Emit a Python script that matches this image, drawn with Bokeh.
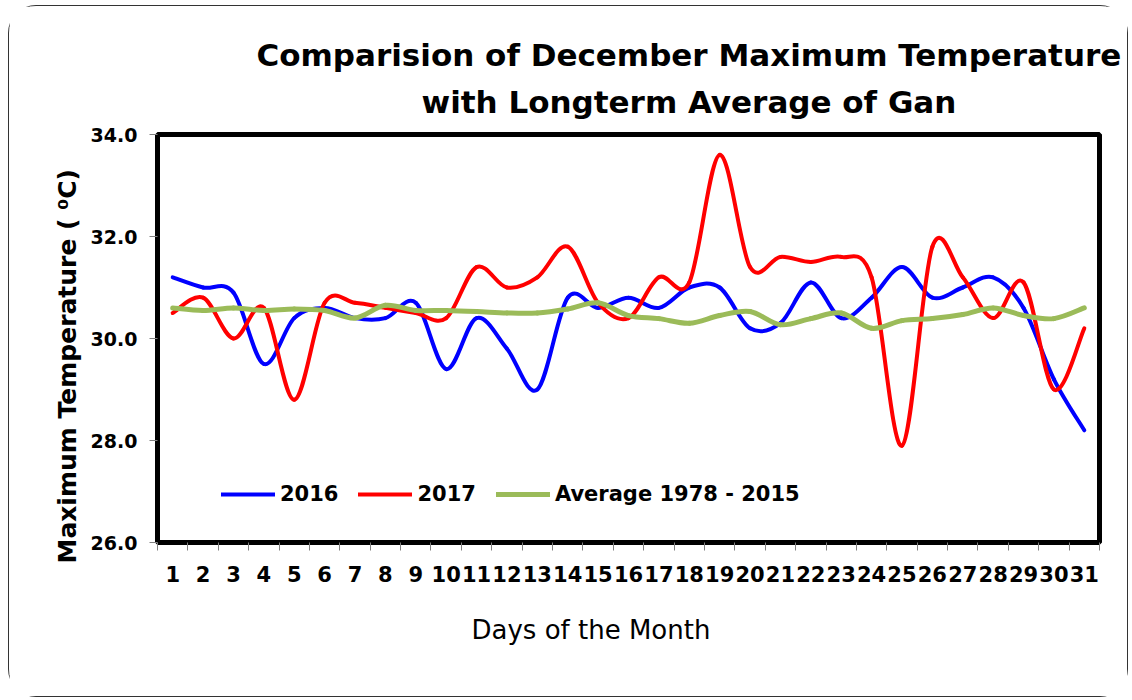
from bokeh.plotting import figure
from bokeh.models import Range1d, FixedTicker, NumeralTickFormatter, Title, Legend, LegendItem
from bokeh.embed import file_html
from bokeh.resources import INLINE

days = list(range(1, 32))
t2016 = [31.2, 31.0, 30.9, 29.5, 30.4, 30.6, 30.4, 30.4, 30.7, 29.4, 30.4, 29.8, 29.0, 30.8, 30.6,
         30.8, 30.6, 31.0, 31.0, 30.2, 30.3, 31.1, 30.4, 30.8, 31.4, 30.8, 31.0, 31.2, 30.6, 29.2, 28.2]
t2017 = [30.5, 30.8, 30.0, 30.6, 28.8, 30.7, 30.7, 30.6, 30.5, 30.4, 31.4, 31.0, 31.2, 31.8, 30.7,
         30.4, 31.2, 31.1, 33.6, 31.4, 31.6, 31.5, 31.6, 31.2, 27.9, 31.8, 31.2, 30.4, 31.1, 29.0, 30.2]
tavg = [30.6, 30.55, 30.6, 30.55, 30.58, 30.55, 30.4, 30.65, 30.55, 30.55, 30.53, 30.5, 30.5, 30.58, 30.7,
        30.45, 30.39, 30.3, 30.45, 30.53, 30.27, 30.39, 30.5, 30.2, 30.35, 30.39, 30.47, 30.6, 30.45, 30.39, 30.6]
y_ticks = [26, 28, 30, 32, 34]
series_labels = ["2016", "2017", "Average 1978 - 2015"]
series_colors = ["#0000FF", "#FF0000", "#9BBB59"]
series_widths = [4, 4, 5]

FONT = "DejaVu Sans"

p = figure(width=1120, height=692, output_backend="svg", toolbar_location=None,
           x_range=Range1d(0.5, 31.5), y_range=Range1d(26, 34),
           min_border_left=148, min_border_right=30, min_border_top=128, min_border_bottom=156)
p.styles = {"border": "1px solid #333", "border-radius": "28px", "margin": "5px 0 0 8px"}
p.background_fill_color = "white"
p.border_fill_color = "white"
p.grid.visible = False
p.outline_line_color = "black"
p.outline_line_width = 5

# smooth curves (Catmull-Rom style Bezier segments through the data points)
def bezier_segments(xs, ys):
    n = len(xs)
    out = dict(x0=[], y0=[], x1=[], y1=[], cx0=[], cy0=[], cx1=[], cy1=[])
    for i in range(n - 1):
        i0 = max(i - 1, 0)
        i3 = min(i + 2, n - 1)
        out["x0"].append(xs[i]); out["y0"].append(ys[i])
        out["x1"].append(xs[i + 1]); out["y1"].append(ys[i + 1])
        out["cx0"].append(xs[i] + (xs[i + 1] - xs[i0]) / 6.0)
        out["cy0"].append(ys[i] + (ys[i + 1] - ys[i0]) / 6.0)
        out["cx1"].append(xs[i + 1] - (xs[i3] - xs[i]) / 6.0)
        out["cy1"].append(ys[i + 1] - (ys[i3] - ys[i]) / 6.0)
    return out

items = []
for ys, lab, col, w in zip([t2016, t2017, tavg], series_labels, series_colors, series_widths):
    seg = bezier_segments(days, ys)
    r = p.bezier(x0="x0", y0="y0", x1="x1", y1="y1", cx0="cx0", cy0="cy0", cx1="cx1", cy1="cy1",
                 source=seg, line_color=col, line_width=w, line_cap="round")
    items.append(LegendItem(label=lab, renderers=[r]))

legend = Legend(items=items, orientation="horizontal", location=(64, 36),
                glyph_width=54, glyph_height=20, label_standoff=5, spacing=20,
                padding=0, margin=0, border_line_color=None, background_fill_alpha=0,
                label_text_font=FONT, label_text_font_style="bold", label_text_font_size="21px",
                label_text_color="black")
p.add_layout(legend, "center")

# axes
xa = p.xaxis[0]
xa.ticker = FixedTicker(ticks=days, minor_ticks=[d + 0.5 for d in [0] + days])
xa.major_tick_line_color = None
xa.major_tick_out = 0
xa.major_tick_in = 0
xa.minor_tick_line_color = "#808080"
xa.minor_tick_out = 8
xa.minor_tick_in = 0
xa.axis_line_color = None
xa.major_label_standoff = 15
xa.major_label_text_font = FONT
xa.major_label_text_font_style = "bold"
xa.major_label_text_font_size = "21px"
xa.major_label_text_color = "black"

ya = p.yaxis[0]
ya.ticker = FixedTicker(ticks=y_ticks, minor_ticks=[])
ya.formatter = NumeralTickFormatter(format="0.0")
ya.major_tick_line_color = "#808080"
ya.major_tick_out = 8
ya.major_tick_in = 0
ya.minor_tick_line_color = None
ya.axis_line_color = None
ya.major_label_standoff = 12
ya.major_label_text_font = FONT
ya.major_label_text_font_style = "bold"
ya.major_label_text_font_size = "19px"
ya.major_label_text_color = "black"

# y-axis title as a left title so it can sit lower than the frame centre, as in the reference
yt = Title(text="Maximum Temperature ( \u2070C)", align="left", offset=-21,
           text_font=FONT, text_font_style="bold", text_font_size="25px", text_color="black", standoff=12)
p.add_layout(yt, "left")

# x-axis title, placed as a below title so it can sit left of the frame centre as in the reference
xt = Title(text="Days of the Month", align="left", offset=314,
           text_font=FONT, text_font_style="normal", text_font_size="26px", text_color="black", standoff=56)
p.add_layout(xt, "below")

# titles (second line added first so it sits closest to the frame)
t2 = Title(text="with Longterm Average of Gan", align="left", offset=264,
           text_font=FONT, text_font_style="bold", text_font_size="31px", text_color="black", standoff=29)
t1 = Title(text="Comparision of December Maximum Temperature", align="left", offset=99,
           text_font=FONT, text_font_style="bold", text_font_size="31px", text_color="black", standoff=-11)
p.add_layout(t2, "above")
p.add_layout(t1, "above")

open("out.html", "w").write(file_html(p, INLINE))
